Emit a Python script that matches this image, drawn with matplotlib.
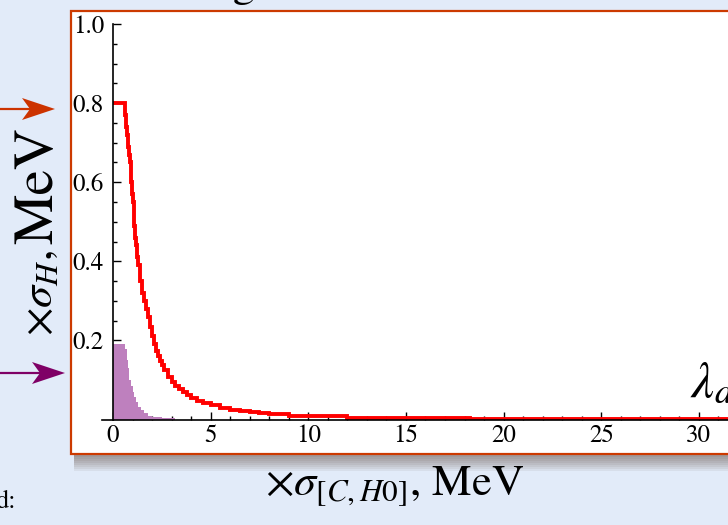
import numpy as np
import matplotlib
matplotlib.use("Agg")
import matplotlib.pyplot as plt
from matplotlib.patches import Rectangle, Polygon
from matplotlib.ticker import MultipleLocator, FixedLocator, FormatStrFormatter

# ---- data ----
red_edges = [0, 0.6, 0.65, 0.7, 0.75, 0.8, 0.85, 0.9, 0.95, 1.0,
             1.05, 1.1, 1.15, 1.2, 1.25, 1.3, 1.4, 1.5, 1.6, 1.7,
             1.8, 1.9, 2.0, 2.1, 2.2, 2.3, 2.4, 2.5, 2.6, 2.8,
             3.0, 3.2, 3.4, 3.6, 3.8, 4.0, 4.3, 4.6, 5.0, 5.5,
             6.0, 6.5, 7.0, 7.5, 8.0, 9.0, 10.0, 12.0, 18.3, 40.0]
red_values = [0.8, 0.77, 0.74, 0.72, 0.69, 0.67, 0.65, 0.60, 0.57,
              0.55, 0.52, 0.49, 0.46, 0.44, 0.41,
              0.39, 0.35, 0.32, 0.30, 0.28, 0.26, 0.235,
              0.21, 0.19, 0.172, 0.16, 0.148, 0.138,
              0.125, 0.108, 0.095, 0.085, 0.077, 0.069, 0.062,
              0.055, 0.048, 0.042, 0.036, 0.029, 0.025, 0.021, 0.018, 0.016,
              0.013, 0.010, 0.008, 0.004, 0.0015]
purple_edges = [0, 0.62, 0.7, 0.75, 0.8, 0.9, 1.0, 1.1, 1.2, 1.3, 1.45, 1.6, 1.8,
                2.0, 2.5, 3.2]
purple_values = [0.19, 0.177, 0.15, 0.13, 0.10, 0.085, 0.07, 0.058, 0.045, 0.032,
                 0.024, 0.016, 0.010, 0.007, 0.005]
x_major = [0, 5, 10, 15, 20, 25, 30]
y_major = [0.2, 0.4, 0.6, 0.8, 1.0]

# ---- style ----
plt.rcParams['font.family'] = ['STIXGeneral', 'DejaVu Serif']
plt.rcParams['mathtext.fontset'] = 'stix'

W, H = 728, 525
BG = '#E2EBF9'
BORDER = '#CC3A00'
RED = '#FF0000'
PURPLE = '#BE80BE'

fig = plt.figure(figsize=(W / 100, H / 100), dpi=100)
fig.patch.set_facecolor(BG)

def fx(px):
    return px / W

def fy(py):
    return 1 - py / H

# drop shadow under the box
for k in range(2, 20, 2):
    fig.add_artist(Rectangle((fx(74), fy(453 + k)), fx(740) - fx(74), fy(453) - fy(453 + k),
                             transform=fig.transFigure, facecolor='#503828',
                             edgecolor='none', alpha=0.07, zorder=0))

# white box with orange border
fig.add_artist(Rectangle((fx(71), fy(453.5)), fx(760) - fx(71), fy(10.5) - fy(453.5),
                         transform=fig.transFigure, facecolor='white',
                         edgecolor=BORDER, linewidth=1.6, zorder=0.5))

# ---- axes ----
xpx_per_unit = 19.53
x_lo, x_hi = -0.56, 36.0
ax_left_px = 113 + x_lo * xpx_per_unit
ax_width_px = (x_hi - x_lo) * xpx_per_unit
y0_px, y1_px = 419.5, 24.0
ax = fig.add_axes([fx(ax_left_px), fy(y0_px), ax_width_px / W, (y0_px - y1_px) / H])
ax.set_facecolor('none')
ax.set_zorder(2)
ax.set_xlim(x_lo, x_hi)
ax.set_ylim(0, 1.0)

ax.stairs(purple_values, purple_edges, fill=True, color=PURPLE, linewidth=0, zorder=2)
ax.stairs(red_values, red_edges, baseline=None, color=RED, linewidth=2.8, zorder=3)

for s in ['top', 'right']:
    ax.spines[s].set_visible(False)
ax.spines['left'].set_position(('data', 0))
ax.spines['left'].set_linewidth(1.2)
ax.spines['bottom'].set_linewidth(1.2)
ax.spines['left'].set_zorder(4)
ax.spines['bottom'].set_zorder(4)

ax.xaxis.set_major_locator(FixedLocator(x_major))
ax.xaxis.set_minor_locator(MultipleLocator(1))
ax.yaxis.set_major_locator(FixedLocator(y_major))
ax.yaxis.set_minor_locator(FixedLocator([v for v in np.arange(0.05, 1.0001, 0.05)
                                         if round(v / 0.2, 6) % 1 != 0]))
ax.yaxis.set_major_formatter(FormatStrFormatter('%.1f'))
ax.tick_params(which='both', direction='in', width=1.0, colors='black', labelsize=18)
ax.tick_params(which='major', length=6)
ax.tick_params(which='minor', length=3.2)
ax.tick_params(axis='x', which='major', pad=3)
ax.tick_params(axis='y', which='major', pad=6.5)

# ---- texts ----
fig.text(fx(395), fy(495), '×' + r'$\sigma_{[C,H0]}$, MeV', ha='center', va='baseline',
         fontsize=32, color='black')
# y label: "×σ_H," and "MeV" share one vertical baseline
fig.text(fx(52), fy(336), '×' + r'$\sigma_{H}$,', ha='left', va='baseline',
         rotation=90, rotation_mode='anchor', fontsize=32, color='black')
fig.text(fx(52), fy(127), 'MeV', ha='right', va='baseline',
         rotation=90, rotation_mode='anchor', fontsize=41, color='black')
fig.text(fx(690), fy(397), r'$\lambda_d$', ha='left', va='baseline', fontsize=37,
         color='black')
fig.text(fx(244), 1 + 4 / H, 'g', ha='center', va='baseline', fontsize=32, color='black')
fig.text(fx(16), fy(508), 'd:', ha='right', va='baseline', fontsize=19, color='black')

# ---- arrows (decorations pointing at the 0.8 and 0.19 levels) ----
def arrow(y, tip, color):
    fig.add_artist(plt.Line2D([0, fx(tip - 20)], [fy(y), fy(y)], transform=fig.transFigure,
                              color=color, linewidth=1.6, zorder=1))
    fig.add_artist(Polygon([(fx(tip), fy(y)), (fx(tip - 33), fy(y - 11)),
                            (fx(tip - 25), fy(y)), (fx(tip - 33), fy(y + 11))],
                           closed=True, transform=fig.transFigure, facecolor=color,
                           edgecolor='none', zorder=1))

arrow(109, 55, '#CC3300')
arrow(373, 65, '#7F0066')

fig.savefig('out.png', dpi=100, facecolor=BG)
